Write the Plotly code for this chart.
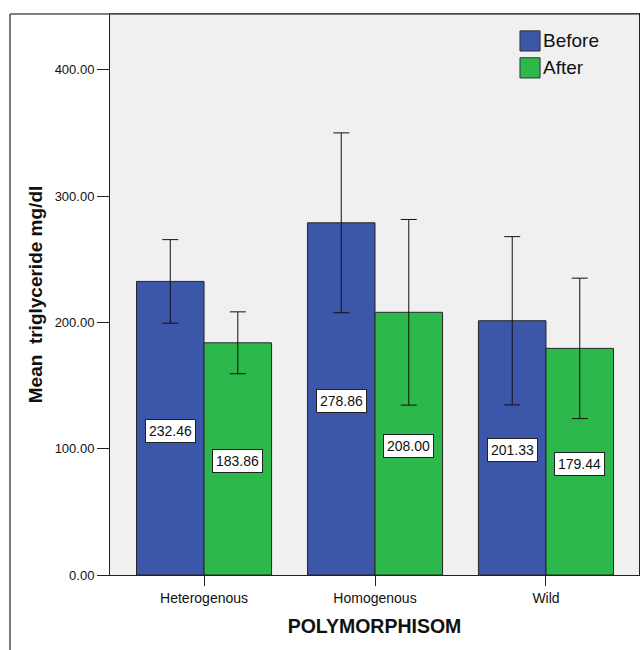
import plotly.graph_objects as go

categories = ["Heterogenous", "Homogenous", "Wild"]
before_mean = [232.46, 278.86, 201.33]
after_mean = [183.86, 208.00, 179.44]
before_err = [33.1, 71.2, 66.6]
after_err = [24.5, 73.5, 55.6]
y_ticks = [0, 100, 200, 300, 400]
y_tick_labels = ["0.00", "100.00", "200.00", "300.00", "400.00"]

BLUE = "#3C56A9"
GREEN = "#2DB84B"
FONT = "Liberation Sans, Arial, sans-serif"
BARGAP = 0.21

fig = go.Figure()
for name, vals, errs, col in [("Before", before_mean, before_err, BLUE),
                              ("After", after_mean, after_err, GREEN)]:
    fig.add_trace(go.Bar(
        x=categories, y=vals, name=name,
        marker=dict(color=col, line=dict(color="#262626", width=1)),
        error_y=dict(type="data", array=errs, visible=True, color="#111111",
                     thickness=1, width=8),
        showlegend=False,
    ))

# value labels in boxes
half = (1 - BARGAP) / 4
for i, (b, a) in enumerate(zip(before_mean, after_mean)):
    for xv, v in [(i - half, b), (i + half, a)]:
        fig.add_annotation(x=xv, y=v / 2 - 2, xref="x", yref="y",
                           text=f"{v:.2f}", showarrow=False,
                           font=dict(family=FONT, size=14, color="#111"),
                           bgcolor="white", bordercolor="#222", borderwidth=1,
                           borderpad=3)

# custom legend
for (y0, y1, col, label) in [(0.934, 0.970, BLUE, "Before"), (0.886, 0.922, GREEN, "After")]:
    fig.add_shape(type="rect", xref="paper", yref="paper", x0=0.775, x1=0.813,
                  y0=y0, y1=y1, fillcolor=col, line=dict(color="#333", width=1))
    fig.add_annotation(xref="paper", yref="paper", x=0.815, y=(y0 + y1) / 2,
                       xanchor="left", yanchor="middle", text=label, showarrow=False,
                       font=dict(family=FONT, size=19, color="#111"))

# outer frame
fig.add_shape(type="line", xref="paper", yref="paper", x0=-0.189, x1=-0.189, y0=1, y1=-0.14,
              line=dict(color="#777", width=2))
fig.add_shape(type="line", xref="paper", yref="paper", x0=-0.189, x1=1, y0=1, y1=1,
              line=dict(color="#555", width=1.5))

fig.update_layout(
    width=643, height=650,
    margin=dict(l=110, r=4, t=14, b=75),
    paper_bgcolor="white", plot_bgcolor="#F0F0F0",
    barmode="group", bargap=BARGAP, bargroupgap=0,
    font=dict(family=FONT, color="#111"),
    xaxis=dict(
        range=[-0.55, 2.544], showline=True, linecolor="#222", linewidth=1, mirror=True,
        ticks="outside", ticklen=10, tickcolor="#222", tickfont=dict(size=14),
        title=dict(text="<b>POLYMORPHISOM</b>", font=dict(size=19.5), standoff=14),
        showgrid=False,
    ),
    yaxis=dict(
        range=[0, 444.2], showline=True, linecolor="#222", linewidth=1, mirror=True,
        tickvals=y_ticks, ticktext=y_tick_labels, ticks="outside", ticklen=12,
        tickcolor="#222", tickfont=dict(size=13), showgrid=False, zeroline=False,
        title=dict(text="<b>Mean\u00a0 triglyceride mg/dl</b>", font=dict(size=19), standoff=6),
    ),
)

fig.write_html("out.html", config={"displayModeBar": False},
               post_script="document.body.style.margin='0px';document.body.style.overflow='hidden';")
